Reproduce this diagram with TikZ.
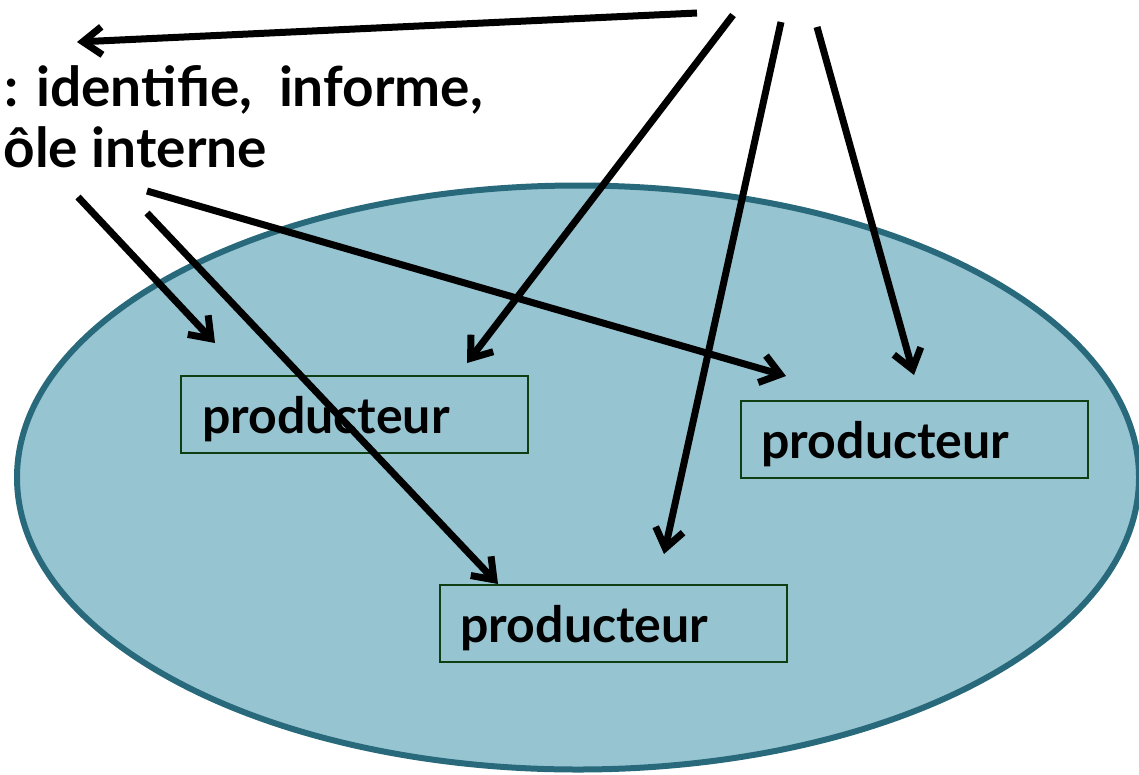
\documentclass[tikz,border=0pt]{standalone}
\usepackage{fontspec}
\setmainfont{Lato}
\usetikzlibrary{shapes.geometric, arrows.meta}
\definecolor{ensemblefill}{HTML}{97C4D1}
\definecolor{ensembleline}{HTML}{286A7B}
\definecolor{boxline}{HTML}{0E3E12}

\begin{document}
\begin{tikzpicture}[
  x = 1pt, y = -1pt,
  ensemble/.style = {
    ellipse, draw = ensembleline, fill = ensemblefill,
    line width = 6pt, minimum width = 1122pt, minimum height = 584pt},
  producteur/.style = {
    draw = boxline, line width = 2pt,
    text width = 305pt, inner xsep = 21pt, inner ysep = 0pt,
    text height = 57pt, text depth = 20pt, align = left,
    font = \fontsize{50}{60}\selectfont\bfseries},
  legende/.style = {
    anchor = base east, inner sep = 0pt,
    font = \fontsize{55}{66}\selectfont\bfseries},
  fleche/.style = {
    line width = 7pt,
    -{Straight Barb[length = 19pt, width = 28pt]}}
  ]
  \useasboundingbox (0,0) rectangle (1139,774);

  % l'ensemble et les producteurs
  \node [ensemble] (ensemble) at (578,477.5) {};
  \node [producteur] (prodA) at (354.5,414.5) {producteur};
  \node [producteur] (prodB) at (914,439.5) {producteur};
  \node [producteur] (prodC) at (613,623.5) {producteur};

  % texte coupe a gauche
  \node [legende] (ligneA) at (483,106) {: identifie,\ \ informe,};
  \node [legende] (ligneB) at (267,167) {ôle interne};

  % departs et arrivees des fleches
  \coordinate (hautA) at (697,13);
  \coordinate (hautB) at (733,15);
  \coordinate (hautC) at (781,22);
  \coordinate (hautD) at (817,27);
  \coordinate (gaucheA) at (78,197);
  \coordinate (gaucheB) at (147,213);
  \coordinate (gaucheC) at (147,191);
  \coordinate (cibleA) at (77,42);
  \coordinate (cibleB) at (467,363);
  \coordinate (cibleC) at (664,554);
  \coordinate (cibleD) at (914,375);
  \coordinate (cibleE) at (215,343);
  \coordinate (cibleF) at (498,584);
  \coordinate (cibleG) at (786,376);

  \draw [fleche] (hautA) -- (cibleA);
  \draw [fleche] (hautB) -- (cibleB);
  \draw [fleche] (hautC) -- (cibleC);
  \draw [fleche] (hautD) -- (cibleD);
  \draw [fleche] (gaucheA) -- (cibleE);
  \draw [fleche] (gaucheB) -- (cibleF);
  \draw [fleche] (gaucheC) -- (cibleG);
\end{tikzpicture}
\end{document}
